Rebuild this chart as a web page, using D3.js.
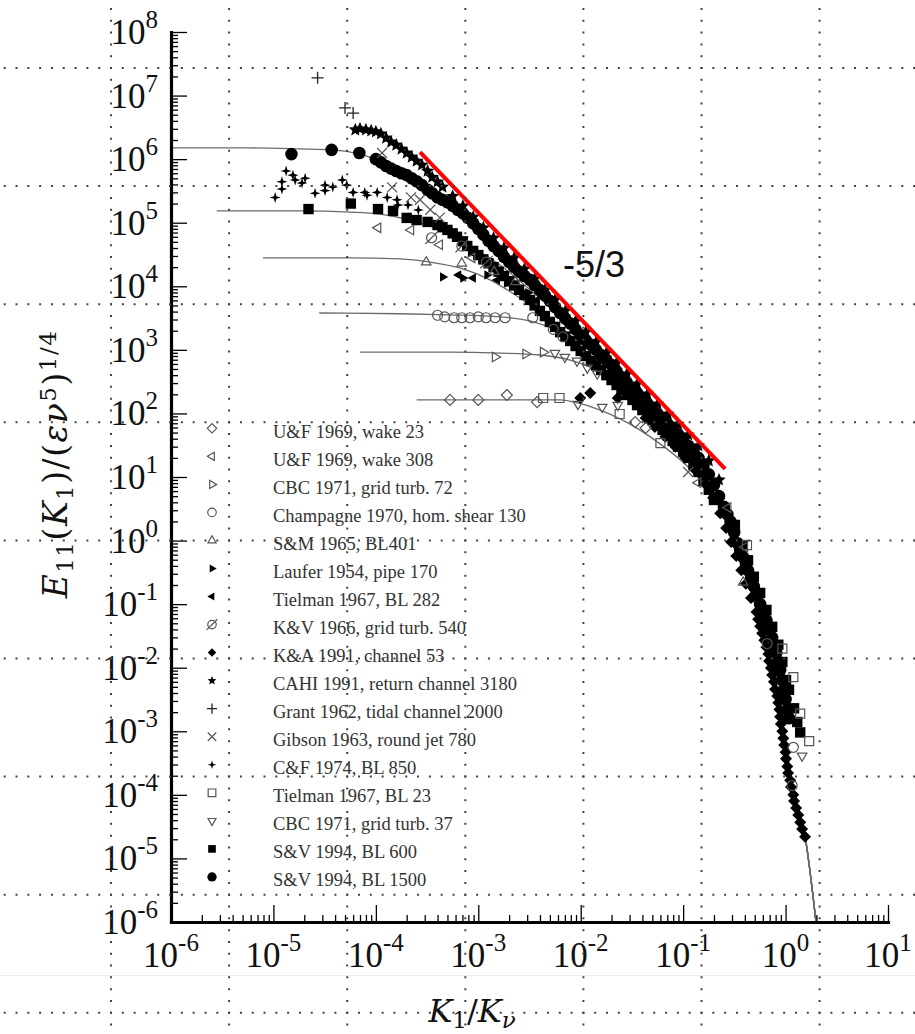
<!DOCTYPE html>
<html>
<head>
<meta charset="utf-8">
<script src="https://cdnjs.cloudflare.com/ajax/libs/d3/7.8.5/d3.min.js"></script>
<style>
  body { margin: 0; background: #fff; }
  svg { display: block; }
</style>
</head>
<body>
<svg id="chart" width="915" height="1034"></svg>
<script>
// --- axis ticks ---
const xMajor = [1e-6, 1e-5, 1e-4, 1e-3, 1e-2, 1e-1, 1e0, 1e1];
const xExp = ["-6", "-5", "-4", "-3", "-2", "-1", "0", "1"];
const yMajor = [1e-6, 1e-5, 1e-4, 1e-3, 1e-2, 1e-1, 1e0, 1e1, 1e2, 1e3, 1e4, 1e5, 1e6, 1e7, 1e8];
const yExp = ["-6", "-5", "-4", "-3", "-2", "-1", "0", "1", "2", "3", "4", "5", "6", "7", "8"];

const legendNames = [
  "U&F 1969, wake 23", "U&F 1969, wake 308", "CBC 1971, grid turb. 72",
  "Champagne 1970, hom. shear 130", "S&M 1965, BL401", "Laufer 1954, pipe 170",
  "Tielman 1967, BL 282", "K&V 1966, grid turb. 540", "K&A 1991, channel 53",
  "CAHI 1991, return channel 3180", "Grant 1962, tidal channel 2000",
  "Gibson 1963, round jet 780", "C&F 1974, BL 850", "Tielman 1967, BL 23",
  "CBC 1971, grid turb. 37", "S&V 1994, BL 600", "S&V 1994, BL 1500"
];

// --- measured spectra [K1/Kv, E11] ---
const uf23 = [[5.3e-4,163],[1.0e-3,163],[1.9e-3,195],[3.75e-3,151],[3.4e-2,73],[4.3e-2,59]];
const uf308 = [[1.05e-4,8.3e4],[2.2e-4,7.7e4],[4.2e-4,4.5e4],[8.7e-4,2.8e4],[0.14,8.1],[0.275,3.3],[0.40,0.79]];
const cbc72 = [[1.46e-3,770],[2.9e-3,860],[4.3e-3,920]];
const champagne = [[4.0e-4,3.5e3],[4.7e-4,3.3e3],[5.8e-4,3.2e3],[6.9e-4,3.2e3],[8.3e-4,3.2e3],[1.0e-3,3.3e3],
  [1.19e-3,3.2e3],[1.46e-3,3.2e3],[1.83e-3,3.2e3],[3.4e-3,3.2e3],[5.4e-3,2.1e3],[6.7e-3,1.6e3],
  [0.66,0.024],[1.19,5.6e-4],[1.16,1.4e-4]];
const sm401 = [[3.1e-4,2.4e4],[6.9e-4,2.3e4],[1.43e-3,1.7e4],[2.3e-3,1.17e4],[0.385,0.22]];
const laufer = [[4.5e-4,1.4e4],[7.1e-4,1.35e4],[1.22e-3,1.5e4],[1.91e-3,1.13e4],[3.06e-3,7.9e3]];
const tielman282 = [[6.4e-4,1.5e4],[8.9e-4,1.35e4],[1.53e-3,1.26e4],[2.4e-3,9.4e3],[3.75e-3,6.1e3]];
const kv540 = [[3.5e-4,5.8e4],[6.9e-4,4.3e4],[1.2e-3,2.4e4]];
const ka53 = [[9.9e-3,175],[1.24e-2,210],[2.3e-2,175],[4.3e-2,85],[5.3e-2,61],[6.7e-2,43],[8.4e-2,30],
  [0.105,20],[0.131,12.9],[0.164,7.8],[0.196,4.7],[0.23,2.7],[0.263,1.58],[0.294,0.95],[0.33,0.57],
  [0.37,0.34],[0.41,0.21],[0.46,0.125],[0.52,0.075],[0.54,0.058],[0.565,0.045],[0.59,0.035],
  [0.62,0.027],[0.65,0.021],[0.68,0.0164],[0.69,0.0127],[0.72,9.9e-3],[0.74,7.7e-3],[0.77,6.0e-3],
  [0.79,4.6e-3],[0.83,3.6e-3],[0.85,2.8e-3],[0.87,2.2e-3],[0.885,1.7e-3],[0.9,1.3e-3],[0.93,1.0e-3],
  [0.95,7.8e-4],[0.97,6.1e-4],[1.0,4.7e-4],[1.01,3.7e-4],[1.04,2.8e-4],[1.06,2.2e-4],[1.11,1.7e-4],
  [1.13,1.33e-4],[1.19,1.0e-4],[1.21,8.0e-5],[1.27,6.2e-5],[1.33,4.8e-5],[1.39,3.7e-5],[1.45,2.9e-5],
  [1.55,2.2e-5]];
const cahi3180 = [[6.3e-5,2.9e6],[7.0e-5,3.0e6],[8.0e-5,2.9e6],[9.0e-5,2.8e6],[1.0e-4,2.7e6],[1.12e-4,2.5e6],
  [1.26e-4,2.15e6],[1.41e-4,1.86e6],[1.58e-4,1.67e6],[1.78e-4,1.44e6],[2.0e-4,1.25e6],[2.24e-4,1.08e6],
  [2.5e-4,9.3e5],[2.82e-4,8.1e5],[3.2e-4,6.5e5],[3.55e-4,5.2e5],[4.0e-4,4.4e5],[4.47e-4,3.65e5],
  [5.62e-4,2.6e5],[7.08e-4,1.83e5],[8.91e-4,1.23e5],[1.12e-3,8.3e4],[1.41e-3,5.75e4],[1.78e-3,4.0e4],
  [2.24e-3,2.8e4],[2.82e-3,1.87e4],[3.55e-3,1.3e4],[4.47e-3,8.75e3],[5.62e-3,6.1e3],[7.08e-3,4.1e3],
  [8.91e-3,2.85e3],[1.12e-2,1.9e3],[1.41e-2,1.33e3],[1.78e-2,890],[2.24e-2,620],[2.82e-2,417],
  [3.55e-2,290],[4.47e-2,202],[5.62e-2,141],[7.08e-2,98],[8.91e-2,68],[0.112,46],[0.141,31],
  [0.178,18],[0.224,9.0]];
const grant2000 = [[2.7e-5,1.9e7],[5.0e-5,6.4e6],[6.0e-5,5.3e6]];
const gibson780 = [[1.15e-4,1.25e6],[1.44e-4,3.6e5],[2.2e-4,2.5e5],[2.7e-4,2.3e5],[3.4e-4,1.6e5],[4.2e-4,1.2e5],[0.112,12]];
const cf850 = [[1.04e-5,2.5e5],[1.21e-5,3.4e5],[1.21e-5,4.4e5],[1.33e-5,6.5e5],[1.55e-5,5.6e5],[1.63e-5,4.7e5],
  [1.9e-5,4.2e5],[2.04e-5,5.0e5],[2.55e-5,2.9e5],[3.19e-5,3.2e5],[3.19e-5,3.9e5],[3.8e-5,3.65e5],
  [4.7e-5,4.7e5],[5.2e-5,3.9e5],[6.0e-5,3.0e5],[7.8e-5,3.0e5],[8.2e-5,2.7e5],[1.03e-4,3.0e5],
  [1.29e-4,2.5e5],[1.61e-4,2.3e5],[1.64e-4,1.9e5],[2.06e-4,1.9e5],[2.6e-4,1.58e5]];
const tielman23 = [[4.3e-3,175],[6.2e-3,175],[2.4e-2,98],[6.0e-2,34],[0.42,0.85],[0.93,0.020],[1.19,7.1e-3],[1.39,1.9e-3],[1.7,7.0e-4]];
const cbc37 = [[5.6e-3,890],[7.0e-3,770],[9.2e-3,670],[1.16e-2,520],[1.45e-2,420],[9.4e-3,140],[1.62e-2,126],[2.3e-2,135],[1.45,4.1e-4]];
const sv600 = [[2.2e-5,1.64e5],[5.7e-5,2.0e5],[1.05e-4,1.64e5],[1.47e-4,1.53e5],[2.0e-4,1.19e5],[2.5e-4,1.1e5],
  [3.2e-4,1.03e5],[4.0e-4,9.2e4],[4.47e-4,8.5e4],[5.0e-4,7.7e4],[5.62e-4,6.8e4],[6.2e-4,6.0e4],[7.08e-4,5.1e4],
  [7.8e-4,4.3e4],[8.91e-4,3.6e4],[1.0e-3,3.1e4],[1.12e-3,2.65e4],[1.26e-3,2.3e4],[1.41e-3,2.0e4],[1.58e-3,1.7e4],
  [1.78e-3,1.45e4],[2.0e-3,1.2e4],[2.24e-3,1.03e4],[2.5e-3,8.8e3],[2.82e-3,7.3e3],[3.2e-3,6.1e3],[3.55e-3,5.0e3],
  [4.0e-3,4.1e3],[4.47e-3,3.4e3],[5.0e-3,2.75e3],[5.62e-3,2.3e3],[6.3e-3,1.9e3],[7.08e-3,1.62e3],[7.9e-3,1.38e3],
  [8.91e-3,1.15e3],[1.0e-2,960],[1.12e-2,800],[1.26e-2,667],[1.41e-2,570],[1.58e-2,482],[1.78e-2,400],
  [2.0e-2,335],[2.24e-2,280],[2.5e-2,233],[2.82e-2,195],[3.2e-2,163],[3.55e-2,135],[4.0e-2,113],[4.47e-2,95],
  [5.0e-2,79],[5.62e-2,66],[6.3e-2,55],[7.08e-2,45],[7.9e-2,37],[8.91e-2,30],[0.1,25],[0.112,20],[0.126,15.5],
  [0.141,12],[0.158,8.7],[0.178,6.3],[0.2,4.35],
  [0.32,1.76],[0.38,0.85],[0.43,0.49],[0.49,0.27],[0.565,0.15],[0.65,0.081],[0.74,0.044],[0.85,0.023],
  [0.93,0.0123],[1.01,6.4e-3],[1.08,4.5e-3],[1.21,2.3e-3],[1.3,1.4e-3],[1.39,9.6e-4]];
const sv1500 = [[1.5e-5,1.2e6],[3.7e-5,1.4e6],[6.9e-5,1.25e6],[1.0e-4,1.0e6],[1.12e-4,8.9e5],[1.26e-4,7.8e5],
  [1.41e-4,7.1e5],[1.58e-4,6.5e5],[1.78e-4,6.0e5],[2.0e-4,5.6e5],[2.24e-4,5.0e5],[2.5e-4,4.5e5],[2.82e-4,3.9e5],
  [3.2e-4,3.3e5],[3.55e-4,2.9e5],[4.0e-4,2.5e5],[4.47e-4,2.3e5],[5.0e-4,2.1e5],[5.62e-4,1.85e5],[6.3e-4,1.6e5],
  [7.08e-4,1.4e5],[7.9e-4,1.2e5],[8.91e-4,9.8e4],[1.0e-3,8.0e4],[1.12e-3,6.5e4],[1.26e-3,5.2e4],[1.41e-3,4.3e4],
  [1.58e-3,3.6e4],[1.78e-3,2.9e4],[2.0e-3,2.4e4],[2.24e-3,2.0e4],[2.5e-3,1.7e4],[2.82e-3,1.45e4],[3.2e-3,1.26e4],
  [3.55e-3,1.05e4],[4.0e-3,8.7e3],[4.47e-3,7.2e3],[5.0e-3,5.9e3],[5.62e-3,4.7e3],[6.3e-3,3.8e3],[7.08e-3,3.1e3],
  [7.9e-3,2.6e3],[8.91e-3,2.1e3],[1.0e-2,1.7e3],[1.12e-2,1.42e3],[1.26e-2,1.2e3],[1.41e-2,1.0e3],[1.58e-2,830],
  [1.78e-2,700],[2.0e-2,580],[2.24e-2,460],[2.5e-2,370],[2.82e-2,305],[3.2e-2,250],[3.55e-2,210],[4.0e-2,175],
  [4.47e-2,143],[5.0e-2,117],[5.62e-2,98],[6.3e-2,82],[7.08e-2,68],[7.9e-2,57],[8.91e-2,47],[0.1,38],
  [0.112,31],[0.126,26],[0.141,20],[0.158,15],[0.178,11],[0.2,7.5],[0.224,5.0],[0.25,3.4],[0.27,2.6],
  [0.29,2.0],[0.315,1.35],[0.34,0.91],[0.36,0.72],[0.385,0.55],[0.41,0.43],[0.43,0.34],[0.46,0.25],
  [0.49,0.19],[0.525,0.14],[0.565,0.10],[0.6,0.076],[0.65,0.056],[0.7,0.040],[0.74,0.030],[0.775,0.023],
  [0.81,0.017],[0.845,0.0125],[0.885,9.2e-3],[0.925,6.4e-3],[0.97,4.5e-3],[1.0,3.2e-3],[1.04,2.2e-3],
  [1.08,1.6e-3]];

// --- model spectra (thin lines) ---
const modelA = [[1e-6,1.5e6],[5.9e-6,1.5e6],[1.8e-5,1.45e6],[3.8e-5,1.4e6],[7.0e-5,1.2e6],[1.1e-4,9.3e5],
  [1.72e-4,6.3e5],[2.7e-4,4.1e5],[4.2e-4,2.5e5],[6.6e-4,1.47e5],[1.04e-3,7.7e4],[1.63e-3,3.9e4],
  [2.56e-3,1.94e4],[4.0e-3,9.4e3],[6.3e-3,4.6e3],[1.24e-2,1.43e3]];
const modelB = [[2.8e-6,1.53e5],[1.8e-5,1.53e5],[5.6e-5,1.47e5],[1.1e-4,1.37e5],[2.16e-4,1.1e5],[4.2e-4,7.7e4],
  [8.3e-4,4.3e4],[1.63e-3,2.16e4],[3.2e-3,8.8e3],[6.3e-3,3.4e3],[1.24e-2,1.19e3]];
const modelC = [[7.9e-6,2.8e4],[5.6e-5,2.8e4],[1.72e-4,2.7e4],[3.4e-4,2.4e4],[6.6e-4,1.94e4],[1.3e-3,1.26e4],
  [2.56e-3,6.5e3],[5.0e-3,2.95e3],[9.9e-3,1.28e3],[1.94e-2,520]];
const modelD = [[2.8e-5,3.8e3],[1.72e-4,3.7e3],[5.3e-4,3.55e3],[1.63e-3,3.3e3],[3.2e-3,2.85e3],[5.4e-3,2.1e3],
  [8.8e-3,1.24e3],[1.55e-2,640],[2.84e-2,280],[6.0e-2,85]];
const modelE = [[7.0e-5,920],[5.3e-4,920],[1.63e-3,890],[4.0e-3,830],[7.9e-3,690],[1.55e-2,450],[3.0e-2,217],[6.0e-2,79]];
const modelF = [[2.5e-4,163],[1.63e-3,163],[6.3e-3,163],[9.4e-3,146],[1.55e-2,113],[2.54e-2,79],[5.3e-2,38],[0.112,14.4],[0.164,7.5]];
const modelTail = [[2.84e-2,300],[6.0e-2,88],[0.125,25],[0.184,9.7],[0.23,4.35],[0.294,1.47],[0.37,0.49],
  [0.46,0.155],[0.565,0.056],[0.68,0.019],[0.79,6.4e-3],[0.905,2.0e-3],[1.01,6.1e-4],[1.13,1.84e-4],
  [1.3,6.9e-5],[1.55,2.2e-5],[1.98,1.0e-6]];

// -5/3 reference slope
const refLine = [[2.7e-4,1.29e6],[0.257,13.4]];

// --- setup ---
const W = 915, H = 1034;
const svg = d3.select('#chart');
svg.append('rect').attr('width', W).attr('height', H).attr('fill', '#fff');
svg.append('line').attr('x1', 0).attr('x2', W).attr('y1', 975.5).attr('y2', 975.5)
  .attr('stroke', '#ececec').attr('stroke-width', 1);

const x = d3.scaleLog().domain([1e-6, 10]).range([171, 888]);
const y = d3.scaleLog().domain([1e-6, 1e8]).range([922, 32]);

const serif = '"Liberation Serif", "Times New Roman", serif';

// model lines
const line = d3.line().x(d => x(d[0])).y(d => y(d[1])).curve(d3.curveMonotoneX);
const models = [modelA, modelB, modelC, modelD, modelE, modelF];
svg.append('g').selectAll('path')
  .data(models.map(m => {
    const last = m[m.length - 1][0];
    return m.concat(modelTail.filter(p => p[0] > last * 1.3));
  }))
  .join('path')
  .attr('d', line)
  .attr('fill', 'none')
  .attr('stroke', '#6a6a6a')
  .attr('stroke-width', 1.3);

// marker shapes
function poly(n, r, r2, start) {
  const pts = [];
  const k = r2 ? 2 * n : n;
  for (let i = 0; i < k; i++) {
    const a = (start + i * 360 / k) * Math.PI / 180;
    const rr = (r2 && i % 2) ? r2 : r;
    pts.push([rr * Math.cos(a), rr * Math.sin(a)]);
  }
  return 'M' + pts.map(p => p[0].toFixed(2) + ',' + p[1].toFixed(2)).join('L') + 'Z';
}
function shape(type, r) {
  switch (type) {
    case 'circle': return `M${r},0A${r},${r},0,1,1,${-r},0A${r},${r},0,1,1,${r},0Z`;
    case 'square': return `M${-r},${-r}H${r}V${r}H${-r}Z`;
    case 'diamond': return `M0,${-r}L${r},0L0,${r}L${-r},0Z`;
    case 'triUp': return poly(3, r, 0, -90);
    case 'triDown': return poly(3, r, 0, 90);
    case 'triLeft': return poly(3, r, 0, 180);
    case 'triRight': return poly(3, r, 0, 0);
    case 'star': return poly(5, r, r * 0.45, -90);
    case 'star4': return poly(4, r, r * 0.33, -90);
    case 'plus': return `M${-r},0H${r}M0,${-r}V${r}`;
    case 'cross': return `M${-r},${-r}L${r},${r}M${-r},${r}L${r},${-r}`;
    case 'slash': return `M${r},0A${r},${r},0,1,1,${-r},0A${r},${r},0,1,1,${r},0Z` +
      `M${-r * 1.25},${r * 1.25}L${r * 1.25},${-r * 1.25}`;
  }
}

const series = [
  { data: uf23, type: 'diamond', r: 5.5, style: 'open' },
  { data: uf308, type: 'triLeft', r: 5.5, style: 'open' },
  { data: cbc72, type: 'triRight', r: 5.5, style: 'open' },
  { data: champagne, type: 'circle', r: 5, style: 'open' },
  { data: sm401, type: 'triUp', r: 5.5, style: 'open' },
  { data: laufer, type: 'triRight', r: 5.5, style: 'fill' },
  { data: tielman282, type: 'triLeft', r: 5.5, style: 'fill' },
  { data: kv540, type: 'slash', r: 5, style: 'open' },
  { data: ka53, type: 'diamond', r: 6, style: 'fill' },
  { data: cahi3180, type: 'star', r: 7, style: 'fill' },
  { data: grant2000, type: 'plus', r: 6, style: 'line' },
  { data: gibson780, type: 'cross', r: 5, style: 'lineGrey' },
  { data: cf850, type: 'star4', r: 5.5, style: 'fill' },
  { data: tielman23, type: 'square', r: 4.5, style: 'open' },
  { data: cbc37, type: 'triDown', r: 5.5, style: 'open' },
  { data: sv600, type: 'square', r: 5.2, style: 'fill' },
  { data: sv1500, type: 'circle', r: 6.3, style: 'fill' }
];

function styleMark(sel, style) {
  if (style === 'fill') sel.attr('fill', '#000').attr('stroke', 'none');
  else if (style === 'open') sel.attr('fill', 'none').attr('stroke', '#555').attr('stroke-width', 1.2);
  else if (style === 'line') sel.attr('fill', 'none').attr('stroke', '#222').attr('stroke-width', 1.3);
  else sel.attr('fill', 'none').attr('stroke', '#555').attr('stroke-width', 1.2);
}

const marks = svg.append('g');
// filled first, outlined markers on top
const order = series.filter(s => s.style === 'fill').concat(series.filter(s => s.style !== 'fill'));
order.forEach(s => {
  const sel = marks.append('g').selectAll('path').data(s.data).join('path')
    .attr('transform', d => `translate(${x(d[0]).toFixed(2)},${y(d[1]).toFixed(2)})`)
    .attr('d', shape(s.type, s.r));
  styleMark(sel, s.style);
});

// reference -5/3 line
svg.append('path')
  .attr('d', d3.line().x(d => x(d[0])).y(d => y(d[1]))(refLine))
  .attr('stroke', '#ff0000').attr('stroke-width', 4).attr('fill', 'none');
svg.append('text').attr('x', 563).attr('y', 277)
  .style('font-family', '"Liberation Sans", Arial, sans-serif').style('font-size', '36px')
  .attr('fill', '#111').text('-5/3');

// axes
const xMinor = [], yMinor = [];
for (let e = -6; e < 1; e++) for (let k = 2; k <= 9; k++) xMinor.push(k * Math.pow(10, e));
for (let e = -6; e < 8; e++) for (let k = 2; k <= 9; k++) yMinor.push(k * Math.pow(10, e));

const gx = svg.append('g').attr('transform', 'translate(0,922)');
gx.call(d3.axisTop(x).tickValues(xMinor).tickSize(7).tickSizeOuter(0).tickFormat(''));
gx.call(g => g.select('.domain').remove());
const gx2 = svg.append('g').attr('transform', 'translate(0,922)');
gx2.call(d3.axisTop(x).tickValues(xMajor).tickSize(17).tickSizeOuter(0).tickFormat(''));

const gy = svg.append('g').attr('transform', 'translate(171,0)');
gy.call(d3.axisRight(y).tickValues(yMinor).tickSize(7).tickSizeOuter(0).tickFormat(''));
gy.call(g => g.select('.domain').remove());
const gy2 = svg.append('g').attr('transform', 'translate(171,0)');
gy2.call(d3.axisRight(y).tickValues(yMajor).tickSize(16).tickSizeOuter(0).tickFormat(''));

svg.selectAll('.tick line').attr('stroke', '#000').attr('stroke-width', 1.3);
svg.selectAll('.domain').attr('stroke', '#000').attr('stroke-width', 3.2).attr('stroke-linecap', 'square');

// tick labels
xMajor.forEach((v, i) => {
  const t = svg.append('text').attr('x', x(v)).attr('y', 967).attr('text-anchor', 'middle')
    .style('font-family', serif).style('font-size', '35px').attr('fill', '#111');
  t.append('tspan').text('10');
  t.append('tspan').attr('dy', -16).style('font-size', '25px').text(xExp[i]);
});
yMajor.forEach((v, i) => {
  const t = svg.append('text').attr('x', 158).attr('y', y(v) + 12).attr('text-anchor', 'end')
    .style('font-family', serif).style('font-size', '35px').attr('fill', '#111');
  t.append('tspan').text('10');
  t.append('tspan').attr('dy', -16).style('font-size', '25px').text(yExp[i]);
});

// axis titles
const math = '"DejaVu Serif", serif';
const yt = svg.append('text').attr('transform', 'translate(67,464) rotate(-90)')
  .attr('text-anchor', 'middle').style('font-family', math).style('font-size', '33px')
  .style('letter-spacing', '1.5px').attr('fill', '#111');
yt.append('tspan').style('font-style', 'italic').text('E');
yt.append('tspan').attr('dy', 6).style('font-size', '23px').text('11');
yt.append('tspan').attr('dy', -6).text('(');
yt.append('tspan').style('font-style', 'italic').text('K');
yt.append('tspan').attr('dy', 6).style('font-size', '23px').text('1');
yt.append('tspan').attr('dy', -6).text(')/(');
yt.append('tspan').style('font-style', 'italic').text('εν');
yt.append('tspan').attr('dy', -11).style('font-size', '23px').text('5');
yt.append('tspan').attr('dy', 11).text(')');
yt.append('tspan').attr('dy', -11).style('font-size', '23px').text('1/4');

const xt = svg.append('text').attr('x', 472).attr('y', 1022).attr('text-anchor', 'middle')
  .style('font-family', math).style('font-size', '32px').attr('fill', '#111');
xt.append('tspan').style('font-style', 'italic').text('K');
xt.append('tspan').attr('dy', 6).style('font-size', '23px').text('1');
xt.append('tspan').attr('dy', -6).text('/');
xt.append('tspan').style('font-style', 'italic').text('K');
xt.append('tspan').attr('dy', 6).style('font-size', '23px').style('font-style', 'italic').text('ν');

// legend
const legendSize = [5.5, 5.5, 5.5, 5, 5.5, 5.5, 5.5, 5, 5, 5.5, 6, 5, 5, 4.5, 5.5, 4.5, 5.5];
const lg = svg.append('g');
series.forEach((s, i) => {
  const ly = 428.3 + 28.04 * i;
  const m = lg.append('path').attr('transform', `translate(212,${ly})`).attr('d', shape(s.type, legendSize[i] * 0.85));
  styleMark(m, s.style);
  lg.append('text').attr('x', 273).attr('y', ly + 9.5)
    .style('font-family', serif).style('font-size', '18.5px').attr('fill', '#333')
    .text(legendNames[i]);
});

// dotted page grid overlay
const step = 118.1, dot = step / 10;
const grid = svg.append('g').attr('stroke', '#444').attr('stroke-width', 2)
  .attr('stroke-dasharray', `2 ${dot - 2}`);
d3.range(111, W, step).forEach(gxv => {
  grid.append('line').attr('x1', gxv).attr('x2', gxv).attr('y1', 67 - dot * 5).attr('y2', H);
});
d3.range(68, H, step).forEach(gyv => {
  grid.append('line').attr('y1', gyv).attr('y2', gyv).attr('x1', 110 - dot * 9).attr('x2', W);
});
</script>
</body>
</html>
